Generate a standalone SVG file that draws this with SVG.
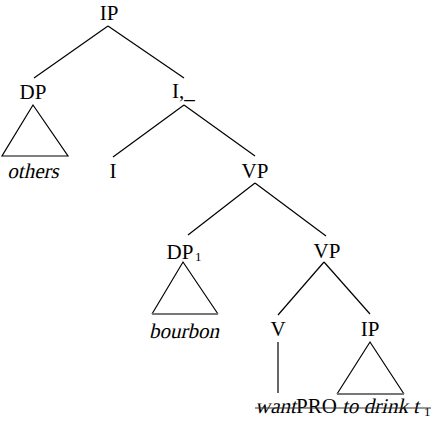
<svg xmlns="http://www.w3.org/2000/svg" width="433" height="426" viewBox="0 0 433 426">
<style>
.lbl{font-family:"Liberation Serif","Times New Roman",serif;font-size:21px;fill:#000;text-anchor:middle}
.st{text-anchor:start}
.sub{font-size:13px}
.edge{stroke:#000;stroke-width:1.2;fill:none}
.tri{stroke:#000;stroke-width:1.2;fill:none}
.base{stroke:#777;stroke-width:2}
.strike{stroke:#333;stroke-width:1.2}
</style>
<rect width="433" height="426" fill="#fff"/>
<g id="connectors">
<line class="edge" x1="108" y1="26" x2="34" y2="78"/>
<line class="edge" x1="108" y1="26" x2="184" y2="78"/>
<line class="edge" x1="184" y1="105" x2="113" y2="157"/>
<line class="edge" x1="184" y1="105" x2="255" y2="156"/>
<line class="edge" x1="255" y1="183" x2="188" y2="235"/>
<line class="edge" x1="255" y1="183" x2="326" y2="236"/>
<line class="edge" x1="324" y1="262" x2="278" y2="315"/>
<line class="edge" x1="324" y1="262" x2="370" y2="314"/>
<line class="edge" x1="278" y1="342" x2="278" y2="393"/>
</g>
<g id="node-IP"><text class="lbl" x="109" y="20">IP</text></g>
<g id="node-DP"><text class="lbl" x="33" y="99">DP</text>
<polygon class="tri" points="33,105 2,156 68,156"/></g>
<g id="node-others"><text class="lbl" transform="translate(33,178) skewX(-13)">others</text></g>
<g id="node-Ibar"><text class="lbl st" x="172" y="98">I,_</text></g>
<g id="node-I"><text class="lbl" x="113" y="178">I</text></g>
<g id="node-VP1"><text class="lbl" x="255" y="178">VP</text></g>
<g id="node-DP1"><text class="lbl" x="180" y="259">DP</text><text class="lbl sub st" x="195" y="261">1</text>
<polyline class="tri" points="152,314 183,262 218,314"/><line class="base" x1="152" y1="314" x2="218" y2="314"/></g>
<g id="node-bourbon"><text class="lbl" transform="translate(184,338) skewX(-13)">bourbon</text></g>
<g id="node-VP2"><text class="lbl" x="327" y="258">VP</text></g>
<g id="node-V"><text class="lbl" x="278" y="336">V</text></g>
<g id="node-IP2"><text class="lbl" x="370" y="336">IP</text>
<polyline class="tri" points="337,394 370,342 404,394"/><line class="base" x1="337" y1="394" x2="404" y2="394"/></g>
<g id="node-leaf">
<text class="lbl st" transform="translate(255,413) skewX(-13)">want</text>
<text class="lbl st" x="296" y="413">PRO</text>
<text class="lbl st" transform="translate(342,413) skewX(-13)">to drink t</text>
<text class="lbl st sub" x="424" y="416">1</text>
<line class="strike" x1="255" y1="408" x2="431" y2="408"/>
</g>
</svg>
